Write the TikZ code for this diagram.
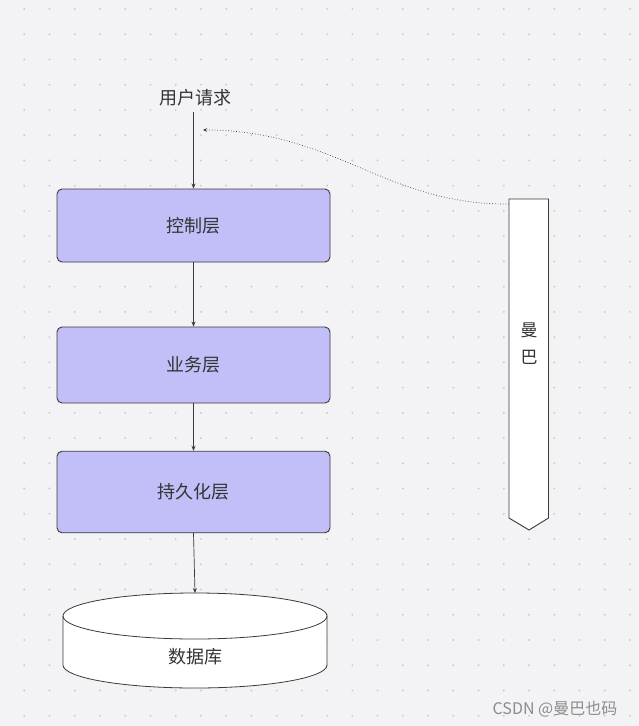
\documentclass[tikz,border=0pt]{standalone}
\usepackage{fontspec}
\newfontfamily\cjk{Noto Sans CJK SC}
\usetikzlibrary{arrows.meta}
\definecolor{bgc}{HTML}{F3F3F5}
\definecolor{dotc}{HTML}{CDCDD1}
\definecolor{layerc}{HTML}{C2BFF8}
\definecolor{linec}{HTML}{3A3A3A}
\definecolor{txtc}{HTML}{333333}
\tikzset{
  layer/.style={draw=linec, line width=0.9pt, fill=layerc, rounded corners=5pt,
    minimum width=273pt, inner sep=0pt, text=txtc,
    font=\cjk\fontsize{18}{22}\selectfont},
  lbl/.style={text=txtc, inner sep=0pt, font=\cjk\fontsize{18}{22}\selectfont},
  conn/.style={draw=linec, line width=0.7pt, -{Stealth[length=5pt,width=4pt]}},
}
\begin{document}
\begin{tikzpicture}[x=1pt,y=-1pt]
\fill[bgc] (0,0) rectangle (639,726);
\useasboundingbox (0,0) rectangle (639,726);
% dot grid
\foreach \i in {0,...,25} {
  \foreach \j in {0,...,28} {
    \fill[dotc] ({-1+25.24*\i},{9+25.24*\j}) circle (1.1);
  }
}
% user request
\node[lbl] (req) at (195,98) {用户请求};
\coordinate (reqtip) at (203,130);
% layers
\node[layer, minimum height=73pt] (ctrl) at (193.5,225.5) {控制层};
\node[layer, minimum height=76pt] (biz) at (193.5,365) {业务层};
\node[layer, minimum height=81.5pt] (pers) at (193.5,492) {持久化层};
% database
\coordinate (dbtop) at (195,593);
\filldraw[fill=white, draw=linec, line width=0.8pt]
  (63,616) -- (63,665) arc[start angle=180, end angle=0, x radius=132, y radius=23]
  -- (327,616) arc[start angle=0, end angle=-180, x radius=132, y radius=23] -- cycle;
\draw[linec, line width=0.8pt] (63,616) arc[start angle=180, end angle=0, x radius=132, y radius=23];
\node[lbl] (db) at (195,657) {数据库};
% manba
\filldraw[fill=white, draw=linec, line width=0.9pt]
  (509,199) -- (548.5,199) -- (548.5,518) -- (529,530) -- (509,518) -- cycle;
\node[lbl, align=center, font=\cjk\fontsize{17}{27}\selectfont] (manba) at (529,344) {曼\\巴};
\coordinate (manbaside) at (509,204);
% connectors
\draw[conn] (193.5,112) -- (ctrl.north);
\draw[conn] (ctrl.south) -- (biz.north);
\draw[conn] (biz.south) -- (pers.north);
\draw[conn] (pers.south) -- (dbtop);
\draw[draw=linec, line width=0.7pt, dotted, -{Stealth[length=4pt,width=3.5pt]}]
  (manbaside) .. controls (385,205) and (335,130) .. (reqtip);
% watermark
\node[inner sep=0pt, text=black!45, font=\cjk\fontsize{16}{18}\selectfont] (wm) at (555,709) {CSDN @曼巴也码};
\end{tikzpicture}
\end{document}
